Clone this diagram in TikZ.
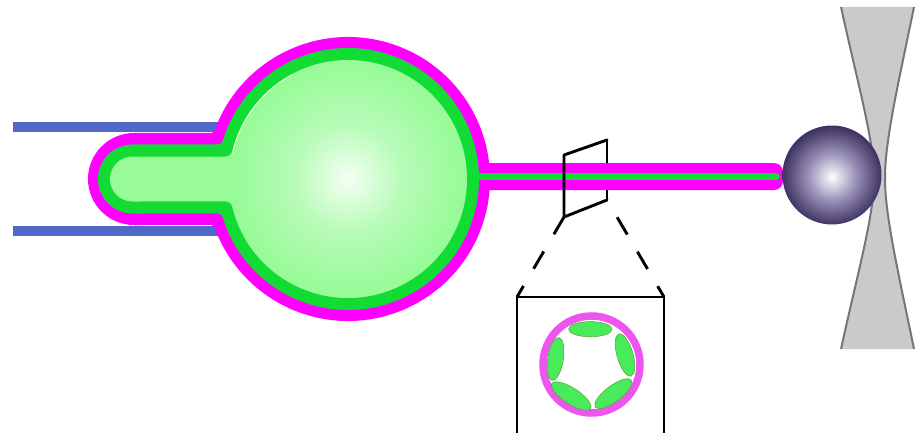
\documentclass[tikz,border=0pt]{standalone}
\definecolor{membrane}{HTML}{FF00FF}
\definecolor{cortex}{HTML}{12DC34}
\definecolor{cytosol}{HTML}{98FB98}
\definecolor{cytocore}{HTML}{F4FFF4}
\definecolor{cytomid}{HTML}{B8FBB8}
\definecolor{pipette}{HTML}{5069C8}
\definecolor{beadmid}{HTML}{9A91B8}
\definecolor{beaddark}{HTML}{3E3362}
\definecolor{lensfill}{HTML}{CACACA}
\definecolor{lensedge}{HTML}{767676}
\definecolor{ringmag}{HTML}{EE55EE}
\definecolor{bundle}{HTML}{48EC5A}
\definecolor{bundleedge}{HTML}{5FA83C}

\pgfdeclareradialshading{beadglow}{\pgfpoint{0bp}{-1bp}}{color(0bp)=(white); color(12bp)=(beadmid); color(25bp)=(beaddark); color(50bp)=(beaddark)}
\pgfdeclareradialshading{somaglow}{\pgfpoint{0bp}{0bp}}{color(0bp)=(cytocore); color(12bp)=(cytomid); color(25bp)=(cytosol); color(50bp)=(cytosol)}

% Soma outline: a disc of radius #3 centred at (348,179) joined to a
% rounded stub of half height #1 reaching left to x=#2, with fillets of
% radius #4 where the two meet; #5 are the path options.
\newcommand\somapath[5]{%
  \pgfmathsetmacro\somaDx{sqrt(#3-#1)*sqrt(#3+#1+2*#4)}%
  \pgfmathsetmacro\somaXf{348-\somaDx}%
  \pgfmathsetmacro\somaA{atan2(-(#1+#4),-\somaDx)}%
  \pgfmathsetmacro\somaB{-(\somaA)}%
  \pgfmathsetmacro\somaC{\somaA+180}%
  \pgfmathsetmacro\somaD{-(\somaA)-180}%
  \pgfmathsetmacro\somaXl{#2+#1}%
  \path[#5] (\somaXf,179-#1) arc[start angle=90, end angle=\somaC, radius=#4]
    arc[start angle=\somaA, end angle=\somaB, radius=#3]
    arc[start angle=\somaD, end angle=-90, radius=#4]
    -- (\somaXl,179+#1) arc[start angle=90, end angle=270, radius=#1] -- cycle;
}

\tikzset{
  sectionline/.style={black, line width=2.9pt, line cap=round, line join=round},
  zoomline/.style={black, line width=2.9pt, dash pattern=on 20pt off 20pt},
  bundlestyle/.style={fill=bundle, draw=bundleedge, line width=0.6pt},
  lensline/.style={lensedge, line width=2pt},
}

\begin{document}
\begin{tikzpicture}[x=1pt, y=-1pt]
\useasboundingbox (0,0) rectangle (918,433);

% optical trap (hourglass beam)
\fill[lensfill] (841,7) .. controls (858,85) and (874,140) .. (874,178)
  .. controls (874,216) and (858,271) .. (841,349) -- (914,349)
  .. controls (898,271) and (885,216) .. (885,178)
  .. controls (885,140) and (898,85) .. (914,7) -- cycle;
\draw[lensline] (841,7) .. controls (858,85) and (874,140) .. (874,178)
  .. controls (874,216) and (858,271) .. (841,349);
\draw[lensline] (914,7) .. controls (898,85) and (885,140) .. (885,178)
  .. controls (885,216) and (898,271) .. (914,349);

% pipette walls
\fill[pipette] (13,122) rectangle (228,132);
\fill[pipette] (13,226) rectangle (228,236);

% section ring around the axon
\coordinate (secTL) at (564,155);
\coordinate (secTR) at (607,140);
\coordinate (secBR) at (607,200);
\coordinate (secBL) at (564,217);
\draw[sectionline] (secTR) -- (secBR);

% membrane layer
\somapath{46}{88}{142}{4}{fill=membrane}
\fill[membrane, rounded corners=9pt] (470,163) rectangle (783,190);

% cortex layer
\somapath{34.5}{98}{131}{5}{fill=cortex}
\draw[cortex, line width=7.5pt, line cap=round] (462,176.5) -- (776,176.5);

% cytoplasm
\somapath{22.5}{110}{119}{6}{fill=cytosol}
\shade[shading=somaglow] (348,178) circle (113);
\draw[white, opacity=0.7, line width=0.8pt] (348,179) ++(-168:118.3) arc[start angle=-168, end angle=-118, radius=118.3];

% front edges of the section ring
\draw[sectionline] (secBR) -- (secBL) -- (secTL) -- (secTR);

% trapped bead
\node[circle, inner sep=0pt, minimum size=99pt, shading=beadglow] (bead) at (832,175) {};

% magnified cross-section
\coordinate (boxTL) at (517,297);
\coordinate (boxTR) at (664,297);
\draw[zoomline] (secBL) -- (boxTL);
\draw[zoomline, dash phase=20pt] (secBR) -- (boxTR);
\draw[sectionline] (517,445) -- (boxTL) -- (boxTR) -- (664,445);

\draw[ringmag, line width=7.5pt] (591.5,364.5) circle (48.5);
\foreach \cx/\cy/\ang/\ra/\rb in {590.3/329.2/-90/21.7/7.6, 555.5/359/-171/21.7/7.8,
    571.2/396/123/23/8, 613.3/393.7/53/22.5/8, 625/355/-16/22/8}
  \filldraw[bundlestyle, shift={(\cx,\cy)}, rotate={-\ang-90}] (0,0) ellipse [x radius=\ra, y radius=\rb];
\end{tikzpicture}
\end{document}
